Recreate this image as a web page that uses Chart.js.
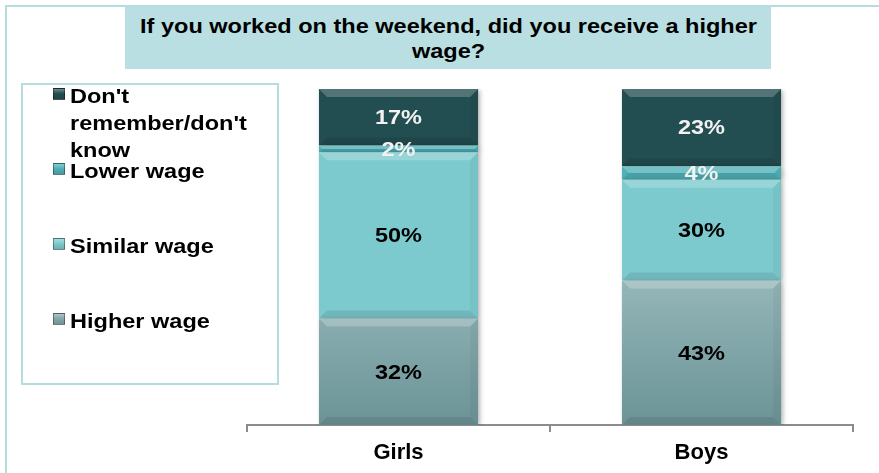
<!DOCTYPE html>
<html lang="en">
<head>
<meta charset="UTF-8">
<title>Weekend wage</title>
<script src="https://cdn.jsdelivr.net/npm/chart.js@4.4.1/dist/chart.umd.min.js"></script>
<style>
body { margin: 0; padding: 0; background: #fff; font-family: "Liberation Sans", Arial, sans-serif; }
#wrap { position: relative; width: 879px; height: 473px; overflow: hidden; }
#frame { position: absolute; left: 5px; top: 5px; width: 900px; height: 500px; border: 2px solid #b5dde0; box-sizing: border-box; }
#chart { position: absolute; left: 0; top: 0; }
#title {
    position: absolute; left: 125px; top: 7px; width: 646px; height: 62px;
    background: #b9dfe2; display: flex; align-items: center; justify-content: center;
    text-align: center; font-weight: bold; font-size: 21px; line-height: 25px; color: #000;
}
#title span { display: inline-block; width: 565px; transform: scaleX(1.12); }
#legend { position: absolute; left: 21px; top: 83px; width: 258px; height: 302px; border: 2px solid #b5dde0; box-sizing: border-box; }
.item { position: absolute; left: 30px; width: 220px; }
.item i {
    position: absolute; left: 0; top: 6px; width: 12px; height: 12px; box-sizing: border-box;
    border: 1px solid rgba(0,0,0,0.35);
}
.item span {
    position: absolute; left: 17px; width: 182px; font-weight: bold; font-size: 21px; line-height: 27px;
    transform: scaleX(1.12); transform-origin: left top; color: #000;
}
</style>
</head>
<body>
<div id="wrap">
    <div id="frame"></div>
    <canvas id="chart" width="879" height="473"></canvas>
    <div id="title"><span>If you worked on the weekend, did you receive a higher wage?</span></div>
    <div id="legend"></div>
</div>

<script>
// data (percent per group)
const categories = ['Girls', 'Boys'];
const seriesNames = ['Higher wage', 'Similar wage', 'Lower wage', "Don't remember/don't know"];
const higherWage = [32, 43];
const similarWage = [50, 30];
const lowerWage = [2, 4];
const dontKnow = [17, 23];

const seriesColors = ['#84a8ab', '#7ccace', '#4fb0b7', '#234e51'];
const labelColors = ['#000', '#000', '#f2f2f2', '#f2f2f2'];

const rawSeries = [higherWage, similarWage, lowerWage, dontKnow];
// 100% stacked: each group scaled to its own total
const totals = categories.map((c, i) => rawSeries.reduce((s, arr) => s + arr[i], 0));
const toShare = arr => arr.map((v, i) => v / totals[i] * 100);

function higherFill(ctx) {
    const area = ctx.chart.chartArea;
    if (!area) return seriesColors[0];
    const g = ctx.chart.ctx.createLinearGradient(0, area.top + (area.bottom - area.top) * 0.5, 0, area.bottom);
    g.addColorStop(0, '#9bbcbe');
    g.addColorStop(1, '#6b9396');
    return g;
}

const datasets = rawSeries.map((arr, k) => ({
    label: seriesNames[k],
    data: toShare(arr),
    raw: arr,
    backgroundColor: k === 0 ? higherFill : seriesColors[k],
    borderWidth: 0,
    barPercentage: 0.525,
    categoryPercentage: 1.0
}));

// soft shadow + bevel edges + value labels
const barDecor = {
    id: 'barDecor',
    beforeDatasetsDraw(chart) {
        const c = chart.ctx;
        c.save();
        c.shadowColor = 'rgba(0,0,0,0.35)';
        c.shadowBlur = 5;
        c.shadowOffsetX = 2;
        c.shadowOffsetY = 1;
    },
    afterDatasetsDraw(chart) {
        const c = chart.ctx;
        c.restore();
        chart.data.datasets.forEach((ds, k) => {
            chart.getDatasetMeta(k).data.forEach((bar, i) => {
                const left = bar.x - bar.width / 2, right = bar.x + bar.width / 2;
                const top = Math.min(bar.y, bar.base), bottom = Math.max(bar.y, bar.base);
                const d = Math.min(8, (bottom - top) / 2);
                c.save();
                c.fillStyle = 'rgba(255,255,255,0.22)';
                c.beginPath();
                c.moveTo(left, top); c.lineTo(right, top); c.lineTo(right - d, top + d); c.lineTo(left + d, top + d);
                c.closePath(); c.fill();
                c.fillStyle = 'rgba(0,0,0,0.09)';
                c.beginPath();
                c.moveTo(left, bottom); c.lineTo(right, bottom); c.lineTo(right - d, bottom - d); c.lineTo(left + d, bottom - d);
                c.closePath(); c.fill();
                c.fillStyle = 'rgba(0,0,0,0.04)';
                c.beginPath();
                c.moveTo(right, top); c.lineTo(right, bottom); c.lineTo(right - d, bottom - d); c.lineTo(right - d, top + d);
                c.closePath(); c.fill();
                c.restore();
            });
        });
        chart.data.datasets.forEach((ds, k) => {
            chart.getDatasetMeta(k).data.forEach((bar, i) => {
                const cy = (bar.y + bar.base) / 2;
                c.save();
                c.translate(bar.x, cy);
                c.scale(1.12, 1);
                c.font = 'bold 21px "Liberation Sans", Arial, sans-serif';
                c.textAlign = 'center';
                c.textBaseline = 'middle';
                c.fillStyle = labelColors[k];
                c.fillText(ds.raw[i] + '%', 0, 1);
                c.restore();
            });
        });
    }
};

const chart = new Chart(document.getElementById('chart'), {
    type: 'bar',
    data: { labels: categories, datasets: datasets },
    options: {
        responsive: false,
        animation: false,
        layout: { padding: { left: 247, right: 26, top: 89, bottom: 0 } },
        plugins: { legend: { display: false }, tooltip: { enabled: false } },
        scales: {
            x: {
                stacked: true,
                offset: true,
                grid: { display: true, drawOnChartArea: false, tickLength: 7, color: '#8c8c8c', lineWidth: 2, offset: true },
                border: { display: true, color: '#8c8c8c', width: 2 },
                ticks: { color: '#000', padding: 8, font: { family: '"Liberation Sans", Arial, sans-serif', size: 22, weight: 'bold' } },
                afterFit: s => { s.height = 48; }
            },
            y: { stacked: true, display: false, min: 0, max: 100 }
        }
    },
    plugins: [barDecor]
});

// legend box, top entry = top of stack
const legendBox = document.getElementById('legend');
[...datasets].reverse().forEach((ds, j) => {
    const k = datasets.length - 1 - j;
    const item = document.createElement('div');
    item.className = 'item';
    item.style.top = (-3 + j * 75) + 'px';
    const mark = document.createElement('i');
    mark.style.background = 'linear-gradient(#ffffff55, #ffffff00 45%, #00000022)' + ',' + seriesColors[k];
    const txt = document.createElement('span');
    txt.textContent = ds.label;
    item.appendChild(mark);
    item.appendChild(txt);
    legendBox.appendChild(item);
});
</script>
</body>
</html>
